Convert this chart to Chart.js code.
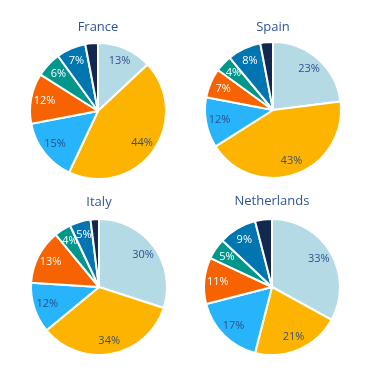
<!DOCTYPE html>
<html>
<head>
<meta charset="utf-8">
<script src="https://cdn.jsdelivr.net/npm/chart.js@4"></script>
<style>
  html, body { margin: 0; padding: 0; background: #fff; }
  #wrap { position: relative; width: 368px; height: 372px; overflow: hidden; }
  .box { position: absolute; }
</style>
</head>
<body>
<div id="wrap"></div>
<script>
// ── DADOS ──
const countries = ['France', 'Spain', 'Italy', 'Netherlands'];
const franceValues = [13, 44, 15, 12, 6, 7, 3];
const spainValues = [23, 43, 12, 7, 4, 8, 3];
const italyValues = [30, 34, 12, 13, 4, 5, 2];
const netherlandsValues = [33, 21, 17, 11, 5, 9, 4];
const segmentLabels = ['Seg 1', 'Seg 2', 'Seg 3', 'Seg 4', 'Seg 5', 'Seg 6', 'Seg 7'];

const sliceColors = ['#b4dbe5', '#fcb400', '#27b4fa', '#f76300', '#00968c', '#0075b0', '#13284f'];
const labelColors = ['#2e4f8c', '#3d4f6e', '#2e4f8c', '#ffffff', '#ffffff', '#ffffff', null];

// posição de cada gráfico (centro da pizza, raio e centro do título)
const layouts = [
    { cx: 98, cy: 111, r: 68, titleY: 27 },
    { cx: 273, cy: 110, r: 68, titleY: 27 },
    { cx: 99, cy: 287, r: 68, titleY: 202 },
    { cx: 272, cy: 287, r: 68, titleY: 201 }
];
const allValues = [franceValues, spainValues, italyValues, netherlandsValues];

// rótulos de porcentagem dentro das fatias
const pctLabels = {
    id: 'pctLabels',
    afterDatasetsDraw(chart) {
        const ctx = chart.ctx;
        const meta = chart.getDatasetMeta(0);
        const data = chart.data.datasets[0].data;
        ctx.save();
        ctx.font = '11px "Open Sans", sans-serif';
        ctx.textAlign = 'center';
        ctx.textBaseline = 'middle';
        meta.data.forEach((arc, i) => {
            if (!labelColors[i]) return;
            const mid = (arc.startAngle + arc.endAngle) / 2;
            const d = arc.outerRadius * 0.8;
            ctx.fillStyle = labelColors[i];
            ctx.fillText(data[i] + '%', arc.x + Math.cos(mid) * d, arc.y + Math.sin(mid) * d);
        });
        ctx.restore();
    }
};

const wrap = document.getElementById('wrap');
const TITLE_SIZE = 13;
const TITLE_LH = 1.2;

countries.forEach((name, k) => {
    const L = layouts[k];
    const top = k < 2 ? 0 : 180;
    const w = 180;
    const h = L.cy + L.r + 1 - top;
    const padTop = L.titleY - top - (TITLE_SIZE * TITLE_LH) / 2;
    const padBottom = (L.cy - L.r - 1) - top - padTop - TITLE_SIZE * TITLE_LH;

    const box = document.createElement('div');
    box.className = 'box';
    box.style.left = (L.cx - w / 2) + 'px';
    box.style.top = top + 'px';
    box.style.width = w + 'px';
    box.style.height = h + 'px';
    const canvas = document.createElement('canvas');
    box.appendChild(canvas);
    wrap.appendChild(box);

    new Chart(canvas, {
        type: 'pie',
        data: {
            labels: segmentLabels,
            datasets: [{
                data: allValues[k],
                backgroundColor: sliceColors,
                borderColor: '#ffffff',
                borderWidth: 2
            }]
        },
        options: {
            responsive: true,
            maintainAspectRatio: false,
            animation: false,
            layout: { padding: 0 },
            plugins: {
                legend: { display: false },
                tooltip: { enabled: false },
                title: {
                    display: true,
                    text: name,
                    color: '#2f5597',
                    font: { family: '"Open Sans", sans-serif', size: TITLE_SIZE, weight: 'normal', lineHeight: TITLE_LH },
                    padding: { top: padTop, bottom: padBottom }
                }
            }
        },
        plugins: [pctLabels]
    });
});
</script>
</body>
</html>
